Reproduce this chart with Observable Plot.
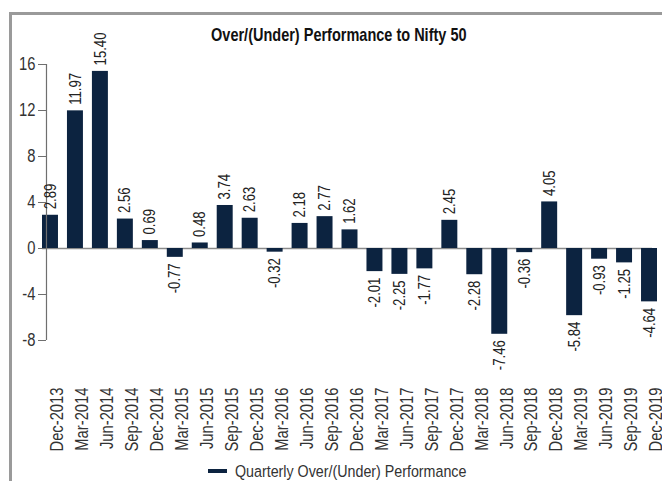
<!DOCTYPE html>
<html>
<head>
<meta charset="utf-8">
<script src="https://cdn.jsdelivr.net/npm/d3@7"></script>
<script src="https://cdn.jsdelivr.net/npm/@observablehq/plot@0.6"></script>
<style>
  html, body { margin: 0; padding: 0; background: #fff; }
  #wrap { position: relative; width: 662px; height: 481px; overflow: hidden; font-family: 'Liberation Sans', Arial, sans-serif; }
  #border { position: absolute; left: 9px; top: 12px; width: 700px; height: 520px; border-left: 3px solid #9a9a9a; border-top: 3px solid #9a9a9a; }
  #title { position: absolute; left: 0; width: 678px; top: 25px; text-align: center; font-weight: bold; font-size: 17.7px; line-height: 20px; color: #111; white-space: nowrap; }
  #title span { display: inline-block; transform: scaleX(0.82); transform-origin: 50% 50%; }
  #chart { position: absolute; left: 0; top: 0; }
  #legend { position: absolute; left: 208px; top: 461px; font-size: 17.4px; line-height: 20px; color: #333; white-space: nowrap; }
  #legend .sw { display: inline-block; width: 19px; height: 4px; background: #0c2340; vertical-align: middle; margin-right: 8px; position: relative; top: -1px; }
  #legend .lt { display: inline-block; transform: scaleX(0.82); transform-origin: 0 50%; }
</style>
</head>
<body>
<div id="wrap">
  <div id="border"></div>
  <div id="chart"></div>
  <div id="title"><span>Over/(Under) Performance to Nifty 50</span></div>
  <div id="legend"><span class="sw"></span><span class="lt">Quarterly Over/(Under) Performance</span></div>
</div>
<script>
const quarters = ["Dec-2013","Mar-2014","Jun-2014","Sep-2014","Dec-2014","Mar-2015","Jun-2015","Sep-2015","Dec-2015","Mar-2016","Jun-2016","Sep-2016","Dec-2016","Mar-2017","Jun-2017","Sep-2017","Dec-2017","Mar-2018","Jun-2018","Sep-2018","Dec-2018","Mar-2019","Jun-2019","Sep-2019","Dec-2019"];
const performance = [2.89, 11.97, 15.40, 2.56, 0.69, -0.77, 0.48, 3.74, 2.63, -0.32, 2.18, 2.77, 1.62, -2.01, -2.25, -1.77, 2.45, -2.28, -7.46, -0.36, 4.05, -5.84, -0.93, -1.25, -4.64];
const yTicks = [-8, -4, 0, 4, 8, 12, 16];

const data = quarters.map((q, i) => ({quarter: q, value: performance[i]}));
const pos = data.filter(d => d.value >= 0);
const neg = data.filter(d => d.value < 0);
const navy = "#0c2340";

const chart = Plot.plot({
  width: 662,
  height: 481,
  marginTop: 64,
  marginBottom: 141,
  marginLeft: 42,
  marginRight: 5,
  style: {fontFamily: "'Liberation Sans', Arial, sans-serif", background: "transparent", color: "#333"},
  x: {domain: quarters, paddingInner: 0.36, paddingOuter: 0, round: false},
  y: {domain: [-8, 16]},
  marks: [
    Plot.ruleY([0], {stroke: "#8a8a8a", strokeWidth: 1.5, insetRight: 5}),
    Plot.barY(data, {x: "quarter", y: "value", fill: navy}),
    Plot.ruleX([quarters[0]], {y1: -8, y2: 16, dx: -4, stroke: "#6f6f6f", strokeWidth: 1.2}),
    Plot.axisY({ticks: yTicks, tickSize: 8, tickPadding: 3, dx: 4, fontSize: 18, label: null, stroke: "#6f6f6f", fill: "#333", tickFormat: d => String(d)}),
    Plot.text(pos, {x: "quarter", y: "value", text: d => d.value.toFixed(2), rotate: -90, textAnchor: "start", dy: -6, fontSize: 16, fill: "#222"}),
    Plot.text(neg, {x: "quarter", y: "value", text: d => d.value.toFixed(2), rotate: -90, textAnchor: "end", dy: 6, fontSize: 16, fill: "#222"}),
    Plot.axisX({tickSize: 0, tickPadding: 47, rotate: -90, textAnchor: "end", fontSize: 18, label: null, fill: "#333"})
  ]
});
document.getElementById("chart").appendChild(chart);

// condense glyphs along the reading direction to mimic the condensed face
chart.querySelectorAll("text").forEach(t => {
  const L = t.getComputedTextLength();
  if (L > 0) {
    t.setAttribute("textLength", (L * 0.82).toFixed(2));
    t.setAttribute("lengthAdjust", "spacingAndGlyphs");
  }
});
</script>
</body>
</html>
